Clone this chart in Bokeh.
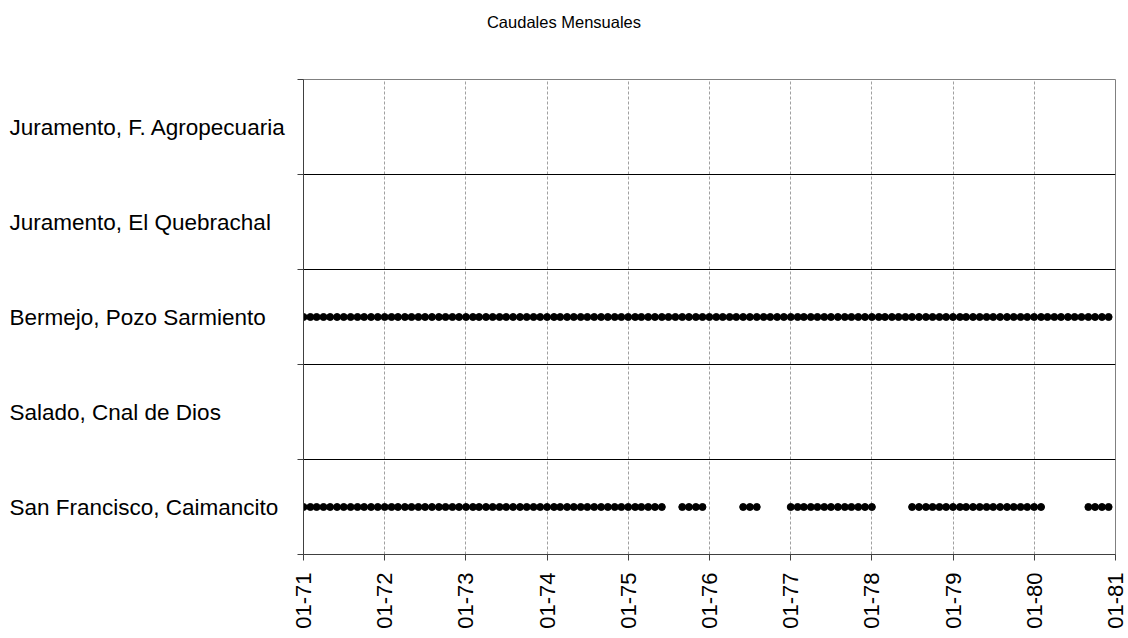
import math
import pandas as pd
from bokeh.plotting import figure
from bokeh.models import Range1d, FixedTicker, DatetimeTickFormatter, Div, ColumnDataSource
from bokeh.layouts import column, row
from bokeh.core.properties import value
from bokeh.embed import file_html
from bokeh.resources import INLINE

# ---- data ----
title_text = "Caudales Mensuales"
stations = [
    "San Francisco, Caimancito",
    "Salado, Cnal de Dios",
    "Bermejo, Pozo Sarmiento",
    "Juramento, El Quebrachal",
    "Juramento, F. Agropecuaria",
]
# periods (first month, last month) with monthly records, per station
san_francisco_runs = [
    ("1971-01", "1975-06"),
    ("1975-09", "1975-12"),
    ("1976-06", "1976-08"),
    ("1977-01", "1978-01"),
    ("1978-07", "1980-02"),
    ("1980-09", "1980-12"),
]
salado_runs = []
bermejo_runs = [("1971-01", "1980-12")]
quebrachal_runs = []
agropecuaria_runs = []
station_runs = [san_francisco_runs, salado_runs, bermejo_runs, quebrachal_runs, agropecuaria_runs]
tick_years = list(range(1971, 1982))
x_start, x_end = "1971-01-01", "1981-01-01"

# ---- layout constants ----
W, H = 1128, 638
TITLE_H = 44
LABEL_W = 290          # width of the station-name column
AX_W = 13              # room for left axis ticks
FRAME_W, FRAME_H = 812, 475
TOP = 79 - TITLE_H
BOTTOM = H - TITLE_H - TOP - FRAME_H
FONT = "Liberation Sans"
NAME_SIZE = "22.5px"
TICK_SIZE = "22px"

y_range = Range1d(0, len(stations))

# ---- main chart ----
main_w = W - LABEL_W
p = figure(width=main_w, height=H - TITLE_H, output_backend="svg", toolbar_location=None,
           x_axis_type="datetime",
           x_range=Range1d(pd.Timestamp(x_start), pd.Timestamp(x_end)),
           y_range=y_range,
           min_border_left=AX_W, min_border_right=main_w - AX_W - FRAME_W,
           min_border_top=TOP, min_border_bottom=BOTTOM, margin=0)
p.outline_line_color = "#808080"
p.outline_line_width = 1

for i, runs in enumerate(station_runs):
    dates = []
    for a, b in runs:
        dates.extend(pd.date_range(a + "-01", b + "-01", freq="MS"))
    if dates:
        p.scatter(dates, [i + 0.5] * len(dates), size=7, marker="circle",
                  fill_color="black", line_color="black")

tick_ms = [pd.Timestamp(f"{y}-01-01").value / 1e6 for y in tick_years]
p.xaxis.ticker = FixedTicker(ticks=tick_ms)
fmt = "%m-%y"
p.xaxis.formatter = DatetimeTickFormatter(years=fmt, months=fmt, days=fmt, hours=fmt,
                                          minutes=fmt, seconds=fmt, milliseconds=fmt,
                                          microseconds=fmt, minsec=fmt, hourmin=fmt)
p.xaxis.major_label_orientation = math.pi / 2
p.xaxis.major_label_text_font = FONT
p.xaxis.major_label_text_font_size = TICK_SIZE
p.xaxis.major_label_text_color = "black"
p.xaxis.major_label_standoff = 12
p.xaxis.major_tick_out = 6
p.xaxis.major_tick_in = 0
p.xaxis.minor_tick_out = 0
p.xaxis.minor_tick_in = 0
p.xaxis.axis_line_color = "#404040"
p.xaxis.major_tick_line_color = "#404040"

p.xgrid.ticker = FixedTicker(ticks=tick_ms)
p.xgrid.grid_line_color = "#a0a0a0"
p.xgrid.grid_line_dash = "3 2"

bounds = list(range(0, len(stations) + 1))
p.yaxis.ticker = FixedTicker(ticks=bounds)
p.yaxis.major_label_overrides = {b: "" for b in bounds}
p.yaxis.major_label_text_font_size = "1px"
p.yaxis.major_label_standoff = 0
p.yaxis.major_tick_out = 6
p.yaxis.major_tick_in = 0
p.yaxis.minor_tick_out = 0
p.yaxis.minor_tick_in = 0
p.yaxis.axis_line_color = "#404040"
p.yaxis.major_tick_line_color = "#404040"

p.ygrid.ticker = FixedTicker(ticks=bounds[1:-1])
p.ygrid.grid_line_color = "black"

# ---- station names column ----
lab = figure(width=LABEL_W, height=H - TITLE_H, output_backend="svg", toolbar_location=None,
             x_range=Range1d(0, LABEL_W), y_range=y_range,
             x_axis_location=None, y_axis_location=None,
             min_border_left=0, min_border_right=0,
             min_border_top=TOP, min_border_bottom=BOTTOM, margin=0)
lab.outline_line_color = None
lab.grid.visible = False
src = ColumnDataSource(dict(x=[9] * len(stations),
                            y=[i + 0.5 for i in range(len(stations))],
                            t=stations))
lab.text(x="x", y="y", text="t", source=src, text_font=value(FONT),
         text_font_size=value(NAME_SIZE), text_color="black",
         text_align="left", text_baseline="middle")

title = Div(text=title_text, width=W, height=TITLE_H, margin=0,
            styles={"text-align": "center", "font-family": FONT,
                    "font-size": "16.5px", "line-height": "44px", "color": "black",
                    "width": f"{W}px"})

layout = column(title, row(lab, p, spacing=0), spacing=0)
open("out.html", "w").write(file_html(layout, INLINE))
